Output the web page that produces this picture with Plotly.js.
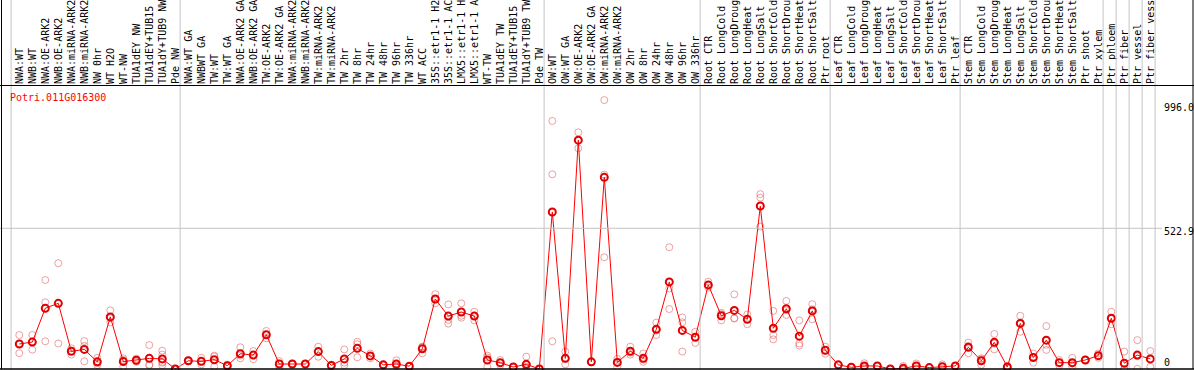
<!DOCTYPE html>
<html><head><meta charset="utf-8">
<script src="https://cdn.plot.ly/plotly-3.0.1.min.js"></script>
<style>html,body{margin:0;padding:0;background:#fff;}#chart{width:1194px;height:370px;}</style>
</head><body><div id="chart"></div>
<script>
const geneId = "Potri.011G016300";

const categories = [
"NWA:WT","NWB:WT","NWA:OE-ARK2","NWB:OE-ARK2","NWA:miRNA-ARK2","NWB:miRNA-ARK2","NW 0hr","WT H2O","WT-NW","TUA1dEY NW","TUA1dEY+TUB15","TUA1dY+TUB9 NW","Pde NW",
"NWA:WT GA","NWBWT GA","TW:WT","TW:WT GA","NWA:OE-ARK2 GA","NWB:OE-ARK2 GA","TW:OE-ARK2","TW:OE-ARK2 GA","NWA:miRNA-ARK2","NWB:miRNA-ARK2","TW:miRNA-ARK2","TW:miRNA-ARK2","TW 2hr","TW 8hr","TW 24hr","TW 48hr","TW 96hr","TW 336hr","WT ACC","35S::etr1-1 H2","35S::etr1-1 AC","LMX5::etr1-1 H","LMX5::etr1-1 A","WT-TW","TUA1dEY TW","TUA1dEY+TUB15","TUA1dY+TUB9 TW","Pde TW",
"OW:WT","OW:WT GA","OW:OE-ARK2","OW:OE-ARK2 GA","OW:miRNA-ARK2","OW:miRNA-ARK2","OW 2hr","OW 8hr","OW 24hr","OW 48hr","OW 96hr","OW 336hr",
"Root CTR","Root LongCold","Root LongDroug","Root LongHeat","Root LongSalt","Root ShortCold","Root ShortDrou","Root ShortHeat","Root ShortSalt","Ptr root",
"Leaf CTR","Leaf LongCold","Leaf LongDroug","Leaf LongHeat","Leaf LongSalt","Leaf ShortCold","Leaf ShortDrou","Leaf ShortHeat","Leaf ShortSalt","Ptr leaf",
"Stem CTR","Stem LongCold","Stem LongDroug","Stem LongHeat","Stem LongSalt","Stem ShortCold","Stem ShortDrou","Stem ShortHeat","Stem ShortSalt","Ptr shoot","Ptr xylem",
"Ptr phloem","Ptr fiber","Ptr vessel","Ptr fiber vess"];

const means = [
96,103,228,246,69,76,30,196,31,36,43,41,4,
34,32,38,16,60,55,130,22,22,22,68,17,41,80,52,19,22,14,78,262,199,214,199,37,27,11,21,4,
583,43,848,30,711,28,69,43,150,325,146,121,
314,200,220,187,605,154,226,125,218,73,
19,10,15,15,4,6,15,9,12,15,
84,34,102,11,172,46,110,27,27,37,53,
191,25,55,41];

const replicates = [
[129,62,97],[129,75,105],[332,250,106],[394,98,246],[80,57,70],[107,32,89],[45,18,25],[220,176,191],[43,12,37],[42,30,35],[92,18,19],[71,57,30,18,27],[5,3,3],
[36,32,34],[45,21,30],[53,12,49],[20,12,16],[84,43,53],[70,40,55],[144,117,130],[33,9,24],[24,20,22],[22,21,23],[86,49,68],[20,14,17],[76,18,27],[104,95,47],[61,43,51],[18,20,17],[36,14,16],[14,13,13],[86,62,85],[280,246,260],[242,185,171],[246,200,193],[215,183,199],[53,12,46],[37,18,26],[11,10,12],[49,12,5,18],[4,3,4],
[919,722,106],[68,21,40],[877,818,847],[30,28,30],[996,416,721],[41,12,31],[86,57,64],[61,30,38],[175,129,146],[453,301,225],[194,176,68],[141,100,121],
[326,304,311],[211,183,206],[279,190,191],[205,169,187],[649,636,529],[218,129,113],[255,203,220],[183,98,90],[243,187,224],[86,60,72],
[19,18,18],[10,9,10],[25,8,11],[15,14,15],[4,3,4],[15,2,1],[24,6,14],[9,8,9],[21,4,12],[15,14,15],
[101,62,89],[43,19,40],[133,76,97],[15,8,10],[200,141,175],[61,27,48],[162,74,93],[37,16,28],[45,12,24],[38,36,37],[61,45,53],
[215,169,188],[68,4,2],[110,4,51],[70,12,40]];

// last category index of each group (-1 = before first)
const groupEnds = [-1, 12, 40, 52, 62, 72, 83, 84, 85, 86, 87];

const yTickVals = [0, 522.9, 996.0];
const yTickText = ["0", "522.9", "996.0"];
const yGridVals = [522.9];

const idx = categories.map((_, i) => i);
const repX = [], repY = [];
replicates.forEach((arr, i) => arr.forEach(v => { repX.push(i); repY.push(v); }));

const W = 1194, H = 370, T = 85;
const pxPerCat = 13, firstPx = 19.3;
const xr0 = -firstPx / pxPerCat, xr1 = xr0 + W / pxPerCat;
const pxPerVal = 0.271;
const yTop = (H - T) / pxPerVal;
const mono = "DejaVu Sans Mono, monospace";

const traces = [
  {x: repX, y: repY, type: 'scatter', mode: 'markers', hoverinfo: 'skip',
   marker: {symbol: 'circle-open', size: 7, color: 'rgba(225,100,100,0.6)', line: {width: 1}}},
  {x: idx, y: means, type: 'scatter', mode: 'lines+markers',
   line: {color: '#ff0000', width: 1},
   marker: {symbol: 'circle-open', size: 7, color: '#e00000', line: {width: 2}}}
];

const shapes = [];
groupEnds.forEach(e => shapes.push({type: 'line', xref: 'x', yref: 'paper', x0: e + 0.37, x1: e + 0.37, y0: 0, y1: H / (H - T) + 0.01, line: {color: '#c4c4c4', width: 1}}));
yGridVals.forEach(v => shapes.push({type: 'line', xref: 'x', yref: 'y', x0: xr0, x1: (1162 - firstPx) / pxPerCat, y0: v, y1: v, line: {color: '#c4c4c4', width: 1}}));
// frame
const px2x = p => p / W, py2y = p => (H - p) / (H - T);
shapes.push({type: 'line', xref: 'paper', yref: 'paper', x0: 0, x1: 1, y0: py2y(85.5), y1: py2y(85.5), line: {color: '#000', width: 1}});
shapes.push({type: 'line', xref: 'paper', yref: 'paper', x0: 0, x1: 1, y0: py2y(369), y1: py2y(369), line: {color: '#000', width: 1.5}});
shapes.push({type: 'line', xref: 'paper', yref: 'paper', x0: px2x(1.5), x1: px2x(1.5), y0: py2y(369), y1: py2y(0), line: {color: '#000', width: 1}});
shapes.push({type: 'line', xref: 'paper', yref: 'paper', x0: px2x(1193), x1: px2x(1193), y0: py2y(369), y1: py2y(0), line: {color: '#000', width: 1}});

const yShifts = [8, -3.5, -7];
const annotations = yTickVals.map((v, k) => ({
  xref: 'paper', yref: 'y', x: px2x(1162), y: v, xanchor: 'left', yanchor: 'middle', yshift: yShifts[k],
  text: yTickText[k], showarrow: false, font: {family: mono, size: 10, color: '#000'}
}));
annotations.push({xref: 'paper', yref: 'paper', x: px2x(8), y: py2y(97), xanchor: 'left', yanchor: 'middle',
  text: geneId, showarrow: false, font: {family: mono, size: 10, color: '#ff0000'}});

const layout = {
  width: W, height: H, margin: {l: 0, r: 0, t: T, b: 0, pad: 0},
  paper_bgcolor: '#fff', plot_bgcolor: '#fff', showlegend: false,
  xaxis: {range: [xr0, xr1], side: 'top', tickmode: 'array', tickvals: idx, ticktext: categories,
          tickangle: -90, ticks: '', showgrid: false, zeroline: false, showline: false,
          tickfont: {family: mono, size: 10, color: '#000'}, automargin: false},
  yaxis: {range: [0, yTop], showticklabels: false, showgrid: false, zeroline: false, showline: false, automargin: false},
  shapes: shapes, annotations: annotations
};

Plotly.newPlot('chart', traces, layout, {staticPlot: true, displayModeBar: false});
</script></body></html>
